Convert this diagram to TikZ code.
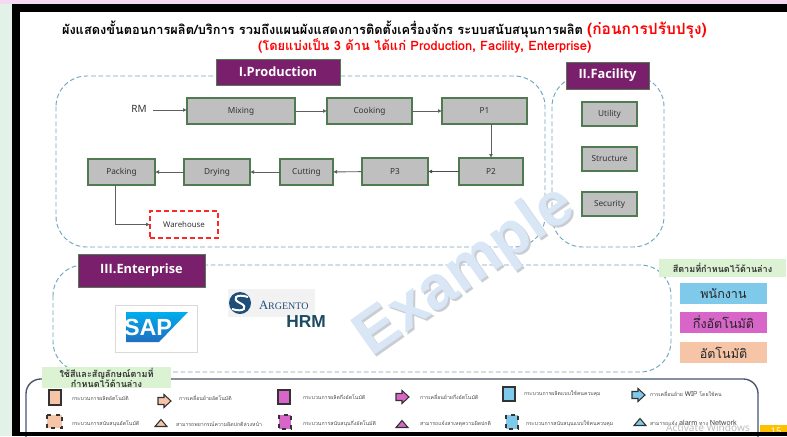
\documentclass[tikz,border=0pt]{standalone}
\usepackage{fontspec}
\usetikzlibrary{arrows.meta}
\setmainfont{Noto Sans}
\newfontfamily\thaif[Script=Thai]{Loma}
\newfontfamily\exf{Liberation Sans}
\newfontfamily\serf{Liberation Serif}
\newfontfamily\headf{Open Sans}
\definecolor{edgegreen}{HTML}{4F7A52}
\definecolor{procgray}{HTML}{BFBFBF}
\definecolor{headpurple}{HTML}{7A1F6B}
\definecolor{dashblue}{HTML}{6FA6C2}
\definecolor{lgreen}{HTML}{DCF3D3}
\definecolor{cblue}{HTML}{7FCAEB}
\definecolor{cmag}{HTML}{D766C8}
\definecolor{corange}{HTML}{F6C4A6}
\definecolor{slate}{HTML}{44546A}
\definecolor{linegray}{HTML}{5F5F5F}
\definecolor{wm}{HTML}{D8E6F5}
\definecolor{wmsh}{HTML}{C9CDD2}
\definecolor{navy}{HTML}{1F4E79}
\definecolor{pinkbar}{HTML}{F5D9F2}
\definecolor{greenbar}{HTML}{E2F2E8}
\definecolor{barorange}{HTML}{FFC000}
\definecolor{sapt}{HTML}{00AEEF}
\definecolor{sapb}{HTML}{1F6FC0}
\definecolor{hrmc}{HTML}{1B4A63}
\tikzset{
 base/.style={inner sep=0pt,outer sep=0pt},
 proc/.style={base,draw=edgegreen,fill=procgray,line width=0.9pt,font=\fontsize{6.2}{7}\selectfont,text=black!80},
 head/.style={base,draw=edgegreen,fill=headpurple,line width=0.7pt,text=white,font=\headf\fontsize{9.6}{10}\bfseries\selectfont},
 ware/.style={base,draw=red!85,dash pattern=on 4pt off 2pt,line width=0.8pt,fill=white,font=\fontsize{5.9}{7}\selectfont,text=black!80},
 zone/.style={draw=dashblue,line width=0.7pt,dash pattern=on 3.5pt off 2pt,rounded corners=23pt},
 conn/.style={draw=linegray,line width=0.7pt,-{Latex[length=3pt,width=3pt]}},
 tag/.style={base,fill=lgreen,text=black!80,align=center},
 swatch/.style={base,font=\thaif\fontsize{9.4}{11}\selectfont,text=black!85},
 legtxt/.style={base,anchor=west,font=\thaif\fontsize{3.9}{4}\selectfont,text=black!70},
 legicon/.style={draw=black!80,line width=0.8pt},
}
\newcommand{\bx}[7]{\node[#6,minimum width={(#4-#2)*0.75pt},minimum height={(#5-#3)*0.75pt}] (#1) at ({(#2+#4)/2},{(#3+#5)/2}) {#7};}
\newcommand{\blockarrow}[3]{\draw[legicon,fill=#3,shift={(#1,#2)}] (-6,-3.5) -- (0,-3.5) -- (0,-6.5) -- (7,0) -- (0,6.5) -- (0,3.5) -- (-6,3.5) -- cycle;}
\newcommand{\tri}[3]{\draw[legicon,fill=#3,shift={(#1,#2)}] (-6,3.5) -- (0,-3.5) -- (6,3.5) -- cycle;}
\newcommand{\solidicon}[5]{\draw[legicon,fill=#5] (#1,#2) rectangle (#3,#4);}
\newcommand{\dashicon}[5]{\fill[#5] (#1,#2) rectangle (#3,#4);\draw[legicon,dash pattern=on 3pt off 3.5pt] (#1,#2) rectangle (#3,#4);}
\begin{document}
\begin{tikzpicture}[x=0.75pt,y=-0.75pt]
\useasboundingbox (0,0) rectangle (787,436);
\fill[white] (0,0) rectangle (787,436);
% window chrome
\fill[pinkbar] (0,0) rectangle (787,4);
\fill[greenbar] (0,4) rectangle (12,436);
\fill[black] (12,4) rectangle (787,12);
\fill[black] (12,12) rectangle (20,436);
% title
\node[base,anchor=west,font=\thaif\fontsize{9.6}{12}\bfseries\selectfont] (title) at (62,30) {ผังแสดงขั้นตอนการผลิต/บริการ รวมถึงแผนผังแสดงการติดตั้งเครื่องจักร ระบบสนับสนุนการผลิต \textcolor{red}{\fontsize{11.6}{12}\selectfont(ก่อนการปรับปรุง)}};
\node[base,anchor=west,text=red,font=\thaif\fontsize{9.7}{12}\bfseries\selectfont] (subtitle) at (258,46) {(โดยแบ่งเป็น 3 ด้าน ได้แก่ Production, Facility, Enterprise)};
% zones
\draw[zone] (56,76) rectangle (545,247);
\draw[zone] (552,76) rectangle (664,247);
\draw[zone] (53,265) rectangle (671,372);
% headers
\bx{hprod}{216}{59}{340}{85}{head}{I.Production}
\bx{hfac}{566}{62}{649}{89}{head}{II.Facility}
\bx{hent}{78}{254}{205}{287}{head}{III.Enterprise}
% process
\node[base,font=\fontsize{7.5}{9}\selectfont,text=black!80] (rm) at (139,109) {RM};
\bx{mix}{187}{98}{295}{124}{proc}{Mixing}
\bx{cook}{327}{98}{412}{124}{proc}{Cooking}
\bx{pone}{442}{98}{527}{124}{proc}{P1}
\bx{ptwo}{459}{158}{523}{185}{proc}{P2}
\bx{pthree}{362}{158}{428}{185}{proc}{P3}
\bx{cut}{280}{159}{333}{185}{proc}{Cutting}
\bx{dry}{184}{159}{250}{185}{proc}{Drying}
\bx{pack}{88}{159}{155}{185}{proc}{Packing}
\bx{wh}{150}{211}{218}{238}{ware}{Warehouse}
\bx{util}{582}{102}{637}{126}{proc}{Utility}
\bx{struct}{582}{147}{637}{171}{proc}{Structure}
\bx{sec}{582}{192}{637}{216}{proc}{Security}
\draw[conn] (rm.east) ++(6,1) coordinate (rmout) -- (mix.west |- rmout);
\draw[conn] (mix) -- (cook);
\draw[conn] (cook) -- (pone);
\draw[conn] (pone.south -| ptwo.north) -- (ptwo.north);
\draw[conn,draw=black!70] (ptwo) -- (pthree);
\draw[conn] (pthree) -- (cut);
\draw[conn] (cut) -- (dry);
\draw[conn] (dry) -- (pack);
\coordinate (packdown) at (115.5,185);
\draw[conn] (packdown) |- (wh.west);
% SAP
\bx{sapbox}{115}{305}{197}{352}{base,draw=black!15,line width=0.7pt,fill=white}{}
\shade[top color=sapt,bottom color=sapb] (126,312) -- (188,312) -- (159,342) -- (126,342) -- cycle;
\node[base,text=white,font=\exf\fontsize{17.5}{18}\bfseries\selectfont] (sap) at (148,327) {SAP};
% Argento
\bx{argbox}{228}{289}{315}{317}{base,fill=black!5}{}
\fill[navy] (240,303) circle (11);
\draw[white,line width=1.5pt] (248,297) .. controls (236,293) and (231,299) .. (240,303) .. controls (249,307) and (244,313) .. (232,309);
\node[base,anchor=west,text=navy,font=\serf\fontsize{9.5}{10}\selectfont] (arg) at (259,305) {A\fontsize{7.5}{8}\selectfont RGENTO};
\node[base,text=hrmc,font=\exf\fontsize{13}{13}\bfseries\selectfont] (hrm) at (306,322) {HRM};
% colour key
\bx{ckey}{659}{259}{786}{277}{tag,font=\thaif\fontsize{6.8}{8}\bfseries\selectfont}{สีตามที่กำหนดไว้ด้านล่าง}
\bx{kblue}{680}{283}{767}{304}{swatch,fill=cblue}{พนักงาน}
\bx{kmag}{680}{312}{767}{333}{swatch,fill=cmag}{กึ่งอัตโนมัติ}
\bx{korange}{680}{342}{767}{363}{swatch,fill=corange}{อัตโนมัติ}
% legend
\draw[slate,line width=1pt,rounded corners=11pt] (26,440) -- (26,379) -- (758,379) -- (758,440);
\bx{ltag}{42}{367}{171}{388}{tag,font=\thaif\fontsize{6.8}{7.6}\bfseries\selectfont}{ใช้สีและสัญลักษณ์ตามที่\\กำหนดไว้ด้านล่าง}
\solidicon{49}{390}{61}{405}{corange}
\node[legtxt] (a1) at (72,398) {กระบวนการผลิตอัตโนมัติ};
\blockarrow{164}{401}{corange}
\node[legtxt] (a2) at (179,398) {การเคลื่อนย้ายอัตโนมัติ};
\solidicon{278}{390}{290}{404}{cmag}
\node[legtxt] (a3) at (303,397) {กระบวนการผลิตกึ่งอัตโนมัติ};
\blockarrow{402}{397}{cmag}
\node[legtxt] (a4) at (420,397) {การเคลื่อนย้ายกึ่งอัตโนมัติ};
\solidicon{503}{387}{515}{401}{cblue}
\node[legtxt] (a5) at (524,394) {กระบวนการผลิตแบบใช้คนควบคุม};
\blockarrow{638}{395}{cblue}
\node[legtxt] (a6) at (650,394) {การเคลื่อนย้าย \fontsize{5}{5}\selectfont WIP\fontsize{3.9}{4}\selectfont\ โดยใช้คน};
\dashicon{47}{415}{62}{428}{corange}
\node[legtxt] (b1) at (72,424) {กระบวนการสนับสนุนอัตโนมัติ};
\tri{161}{423}{corange}
\node[legtxt] (b2) at (176,424) {สามารถพยากรณ์ความผิดปกติล่วงหน้า};
\dashicon{279}{415}{291}{429}{cmag}
\node[legtxt] (b3) at (303,423) {กระบวนการสนับสนุนกึ่งอัตโนมัติ};
\tri{402}{424}{cmag}
\node[legtxt] (b4) at (420,424) {สามารถแจ้งสาเหตุความผิดปกติ};
\dashicon{506}{415}{518}{429}{cblue}
\node[legtxt] (b5) at (526,424) {กระบวนการสนับสนุนแบบใช้คนควบคุม};
\tri{640}{422}{cblue}
\node[legtxt] (b6) at (650,423) {สามารถแจ้ง \fontsize{5.5}{5}\selectfont alarm\fontsize{3.9}{4}\selectfont\ ทาง \fontsize{5.5}{5}\selectfont Network};
\node[base,text=black!25,font=\fontsize{7.6}{8}\selectfont] (act) at (708,428) {Activate Windows};
% bottom bar
\fill[barorange] (760,425) rectangle (787,432);
\node[base,text=white,font=\fontsize{7}{8}\bfseries\selectfont] (pgno) at (776,431) {15};
\fill[black] (20,432) rectangle (787,436);
% watermark
\node[base,rotate=35,text=wmsh,font=\exf\fontsize{46}{47}\bfseries\selectfont] (wmshadow) at (468,274) {Example};
\node[base,rotate=35,text=wm,font=\exf\fontsize{46}{47}\bfseries\selectfont] (wmtext) at (466,272) {Example};
\end{tikzpicture}
\end{document}
